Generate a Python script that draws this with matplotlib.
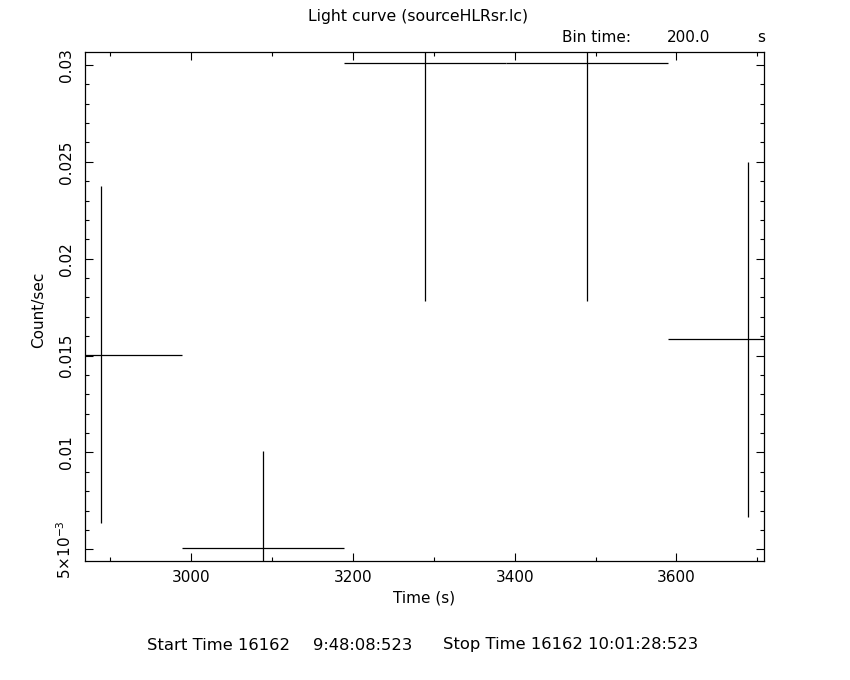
import matplotlib
matplotlib.use("Agg")
import matplotlib.pyplot as plt
from matplotlib.ticker import MultipleLocator, FixedLocator, FixedFormatter

# light curve bins (centre time, rate, 1-sigma error)
time_s = [2889, 3089, 3289, 3489, 3689]
rate = [0.01505, 0.00505, 0.03009, 0.03009, 0.01583]
rate_err = [0.00870, 0.00502, 0.01228, 0.01228, 0.00915]
bin_half = [100, 100, 100, 100, 100]

y_ticks = [0.005, 0.01, 0.015, 0.02, 0.025, 0.03]
y_tick_labels = ['5×10$^{-3}$', '0.01', '0.015', '0.02', '0.025', '0.03']

plt.rcParams['font.family'] = ['DejaVu Sans']
fs = 11

fig = plt.figure(figsize=(8.5, 6.8), dpi=100)
ax = fig.add_axes([85 / 850, 1 - 560.7 / 680, (764.3 - 85) / 850, (560.7 - 51.7) / 680])

ax.errorbar(time_s, rate, xerr=bin_half, yerr=rate_err, fmt='none',
            ecolor='black', elinewidth=0.9, capsize=0)

ax.set_xlim(2868.6, 3708.7)
ax.set_ylim(0.004411, 0.030687)

ax.xaxis.set_major_locator(MultipleLocator(200))
ax.xaxis.set_minor_locator(MultipleLocator(100))
ax.yaxis.set_major_locator(FixedLocator(y_ticks))
ax.yaxis.set_major_formatter(FixedFormatter(y_tick_labels))
ax.yaxis.set_minor_locator(MultipleLocator(0.001))

ax.tick_params(which='both', direction='in', top=True, right=True, width=0.8, labelsize=fs)
ax.tick_params(which='major', length=5.8)
ax.tick_params(which='minor', length=2.9)
ax.tick_params(axis='x', pad=7)
ax.tick_params(axis='y', pad=8)
for lab in ax.get_yticklabels():
    lab.set_rotation(90)
    lab.set_va('center')
for sp in ax.spines.values():
    sp.set_linewidth(0.9)

fig.text(418 / 850, 1 - 17 / 680, 'Light curve (sourceHLRsr.lc)', ha='center', va='center', fontsize=11.3)
fig.text(562 / 850, 1 - 38 / 680, 'Bin time:', ha='left', va='center', fontsize=fs)
fig.text(667 / 850, 1 - 38 / 680, '200.0', ha='left', va='center', fontsize=fs)
fig.text(765 / 850, 1 - 38 / 680, 's', ha='right', va='center', fontsize=fs)
fig.text(424 / 850, 1 - 598 / 680, 'Time (s)', ha='center', va='center', fontsize=fs)
fig.text(39 / 850, 1 - 310 / 680, 'Count/sec', ha='center', va='center', rotation=90, fontsize=fs)
fig.text(147 / 850, 1 - 645 / 680, 'Start Time 16162', ha='left', va='center', fontsize=11.8)
fig.text(313 / 850, 1 - 645 / 680, '9:48:08:523', ha='left', va='center', fontsize=11.8)
fig.text(443 / 850, 1 - 645 / 680, 'Stop Time 16162 10:01:28:523', ha='left', va='center', fontsize=11.8)

fig.savefig('out.png', dpi=100)
